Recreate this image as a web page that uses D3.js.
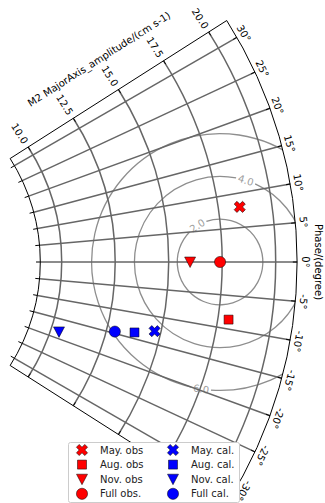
<!DOCTYPE html>
<html>
<head>
<meta charset="utf-8">
<script src="https://cdn.jsdelivr.net/npm/d3@7"></script>
<style>
body { margin: 0; background: #fff; }
svg { display: block; font-family: "DejaVu Sans", sans-serif; }
</style>
</head>
<body>
<script>
// values
var obsNames = ["May. obs", "Aug. obs", "Nov. obs", "Full obs."];
var calNames = ["May. cal.", "Aug. cal.", "Nov. cal.", "Full cal."];
var obsAmp = [18.5, 18.0, 16.0, 17.4];
var obsPhase = [8.0, -8.6, 0.0, 0.0];
var calAmp = [14.7, 13.8, 10.4, 12.9];
var calPhase = [-12.7, -13.8, -18.3, -14.6];
var shapes = ["x", "square", "tri", "circle"];
var ampTicks = [10.0, 12.5, 15.0, 17.5, 20.0];
var phaseTicks = [-30, -25, -20, -15, -10, -5, 0, 5, 10, 15, 20, 25, 30];
var rmsLevels = [2.0, 4.0, 6.0];
var rmsLabelAngle = [-122, -72.5, 98.5];   // where the contour label sits (deg, screen)

var w = 325, h = 503;
var cx = -152.3, cy = 262;
var rMin = 9, rMax = 21, thMax = 32.5;
var deg = Math.PI / 180;

var r = d3.scaleLinear().domain([0, rMax]).range([0, 449.4]);
var th = d3.scaleLinear().domain([-thMax, thMax]).range([-thMax * deg, thMax * deg]);

function px(a, p) { return cx + r(a) * Math.cos(th(p)); }
function py(a, p) { return cy - r(a) * Math.sin(th(p)); }

var svg = d3.select("body").append("svg")
    .attr("width", w)
    .attr("height", h);

// sector outline
function sectorPath() {
    var p = d3.path();
    p.moveTo(px(rMin, thMax), py(rMin, thMax));
    p.lineTo(px(rMax, thMax), py(rMax, thMax));
    p.arc(cx, cy, r(rMax), -th(thMax), th(thMax), false);
    p.lineTo(px(rMin, -thMax), py(rMin, -thMax));
    p.arc(cx, cy, r(rMin), th(thMax), -th(thMax), true);
    p.closePath();
    return p.toString();
}

svg.append("clipPath").attr("id", "sector")
    .append("path").attr("d", sectorPath());

// rms contours round the full observation
var ox = px(obsAmp[3], obsPhase[3]), oy = py(obsAmp[3], obsPhase[3]);
var cont = svg.append("g").attr("clip-path", "url(#sector)");

cont.selectAll("path")
    .data(rmsLevels)
    .enter()
    .append("path")
    .attr("d", function(d, i) {
        var R = r(d);
        var gap = 10 / R;
        var a = rmsLabelAngle[i] * deg;
        var p = d3.path();
        p.moveTo(ox + R * Math.cos(a + gap), oy + R * Math.sin(a + gap));
        p.arc(ox, oy, R, a + gap, a - gap + 2 * Math.PI, false);
        return p.toString();
    })
    .attr("fill", "none")
    .attr("stroke", "#8e8e8e")
    .attr("stroke-width", 1.3);

svg.selectAll("text.clab")
    .data(rmsLevels)
    .enter()
    .append("text")
    .attr("class", "clab")
    .attr("transform", function(d, i) {
        var a = rmsLabelAngle[i];
        var x = ox + r(d) * Math.cos(a * deg), y = oy + r(d) * Math.sin(a * deg);
        var rot = a + 90;
        if (rot > 90) rot -= 180;
        if (rot < -90) rot += 180;
        return "translate(" + x + "," + y + ") rotate(" + rot + ")";
    })
    .attr("text-anchor", "middle")
    .attr("dominant-baseline", "central")
    .attr("font-size", "10px")
    .attr("fill", "#a0a0a0")
    .text(function(d) { return d.toFixed(1); });

// grid
var grid = svg.append("g")
    .attr("stroke", "#666")
    .attr("stroke-width", 1.5)
    .attr("fill", "none");

grid.selectAll("line")
    .data(phaseTicks)
    .enter()
    .append("line")
    .attr("x1", function(d) { return px(rMin, d); })
    .attr("y1", function(d) { return py(rMin, d); })
    .attr("x2", function(d) { return px(rMax, d); })
    .attr("y2", function(d) { return py(rMax, d); });

grid.selectAll("path")
    .data(ampTicks)
    .enter()
    .append("path")
    .attr("d", function(d) {
        var p = d3.path();
        p.moveTo(px(d, thMax), py(d, thMax));
        p.arc(cx, cy, r(d), -th(thMax), th(thMax), false);
        return p.toString();
    });

// frame
svg.append("path")
    .attr("d", sectorPath())
    .attr("fill", "none")
    .attr("stroke", "#000")
    .attr("stroke-width", 1);

// ticks
var ticks = svg.append("g").attr("stroke", "#000").attr("stroke-width", 1);
ticks.selectAll("line.po")
    .data(phaseTicks)
    .enter()
    .append("line")
    .attr("x1", function(d) { return px(rMax, d); })
    .attr("y1", function(d) { return py(rMax, d); })
    .attr("x2", function(d) { return px(rMax - 0.2, d); })
    .attr("y2", function(d) { return py(rMax - 0.2, d); });
ticks.selectAll("line.pi")
    .data(phaseTicks)
    .enter()
    .append("line")
    .attr("x1", function(d) { return px(rMin, d); })
    .attr("y1", function(d) { return py(rMin, d); })
    .attr("x2", function(d) { return px(rMin - 0.2, d); })
    .attr("y2", function(d) { return py(rMin - 0.2, d); });
[thMax, -thMax].forEach(function(edge) {
    var s = edge > 0 ? 1 : -1;
    var nx = Math.sin(edge * deg) * s, ny = Math.cos(edge * deg) * s;
    ticks.selectAll("line.a" + s)
        .data(ampTicks)
        .enter()
        .append("line")
        .attr("x1", function(d) { return px(d, edge); })
        .attr("y1", function(d) { return py(d, edge); })
        .attr("x2", function(d) { return px(d, edge) + 4 * nx; })
        .attr("y2", function(d) { return py(d, edge) + 4 * ny; });
});

// amplitude labels along the upper edge
var nux = -Math.sin(thMax * deg), nuy = -Math.cos(thMax * deg);
svg.selectAll("text.amp")
    .data(ampTicks)
    .enter()
    .append("text")
    .attr("class", "amp")
    .attr("transform", function(d) {
        return "translate(" + (px(d, thMax) + 16 * nux) + "," + (py(d, thMax) + 16 * nuy) + ") rotate(" + (90 - thMax) + ")";
    })
    .attr("text-anchor", "middle")
    .attr("dominant-baseline", "central")
    .attr("font-size", "10px")
    .text(function(d) { return d.toFixed(1); });

svg.append("text")
    .attr("transform", "translate(" + (px(15, thMax) + 36 * nux) + "," + (py(15, thMax) + 36 * nuy) + ") rotate(" + (-thMax) + ")")
    .attr("text-anchor", "middle")
    .attr("dominant-baseline", "central")
    .attr("font-size", "10px")
    .text("M2 MajorAxis_amplitude/(cm s-1)");

// phase labels on the outer arc
svg.selectAll("text.ph")
    .data(phaseTicks)
    .enter()
    .append("text")
    .attr("class", "ph")
    .attr("transform", function(d) {
        var R = r(rMax) + 8;
        var x = cx + R * Math.cos(th(d)), y = cy - R * Math.sin(th(d));
        return "translate(" + x + "," + y + ") rotate(" + (90 - d) + ")";
    })
    .attr("text-anchor", "middle")
    .attr("dominant-baseline", "central")
    .attr("font-size", "10px")
    .text(function(d) { return d + "°"; });

svg.append("text")
    .attr("transform", "translate(318," + cy + ") rotate(90)")
    .attr("text-anchor", "middle")
    .attr("dominant-baseline", "central")
    .attr("font-size", "10px")
    .text("Phase/(degree)");

// markers
function markerPath(shape) {
    if (shape == "x") return d3.symbol(d3.symbolCross, 78)();
    if (shape == "square") return d3.symbol(d3.symbolSquare, 81)();
    if (shape == "circle") return d3.symbol(d3.symbolCircle, 98)();
    return "M-5.5,-5L5.5,-5L0,5.5Z";
}
function markerRot(shape) { return shape == "x" ? 45 : 0; }

var points = [];
obsNames.forEach(function(n, i) {
    points.push({name: n, a: obsAmp[i], p: obsPhase[i], shape: shapes[i], color: "#ff0000"});
});
calNames.forEach(function(n, i) {
    points.push({name: n, a: calAmp[i], p: calPhase[i], shape: shapes[i], color: "#0000ff"});
});

svg.selectAll("path.pt")
    .data(points)
    .enter()
    .append("path")
    .attr("class", "pt")
    .attr("d", function(d) { return markerPath(d.shape); })
    .attr("transform", function(d) {
        return "translate(" + px(d.a, d.p) + "," + py(d.a, d.p) + ") rotate(" + markerRot(d.shape) + ")";
    })
    .attr("fill", function(d) { return d.color; })
    .attr("stroke", "#000")
    .attr("stroke-width", 0.5);

// legend
var lg = svg.append("g").attr("transform", "translate(68,442)");
lg.append("rect")
    .attr("x", 0.5).attr("y", 0.5)
    .attr("width", 171).attr("height", 60)
    .attr("rx", 2)
    .attr("fill", "#fff")
    .attr("stroke", "#ccc");

var items = lg.selectAll("g.item")
    .data(points)
    .enter()
    .append("g")
    .attr("class", "item")
    .attr("transform", function(d, i) {
        return "translate(" + (i < 4 ? 14 : 105) + "," + (8 + (i % 4) * 14.6) + ")";
    });
items.append("path")
    .attr("d", function(d) { return markerPath(d.shape); })
    .attr("transform", function(d) { return "rotate(" + markerRot(d.shape) + ")"; })
    .attr("fill", function(d) { return d.color; })
    .attr("stroke", "#000")
    .attr("stroke-width", 0.5);
items.append("text")
    .attr("x", 18)
    .attr("dominant-baseline", "central")
    .attr("font-size", "10px")
    .attr("fill", "#222")
    .text(function(d) { return d.name; });
</script>
</body>
</html>
